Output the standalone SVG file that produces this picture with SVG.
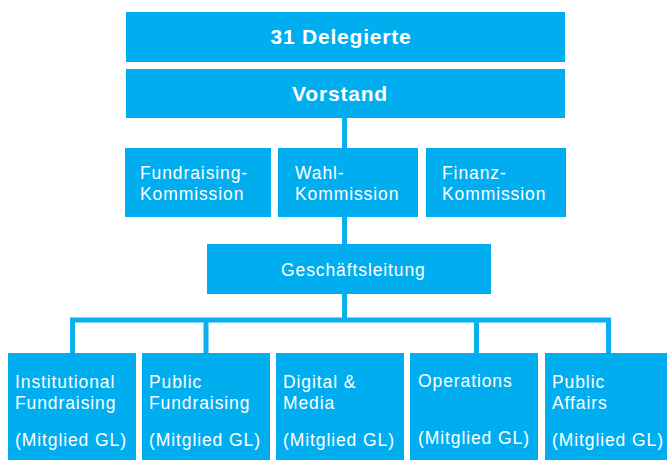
<svg xmlns="http://www.w3.org/2000/svg" width="667" height="460" viewBox="0 0 667 460">
<style>
.box{fill:#00AEEF}
.ln{stroke:#0AB0EE;stroke-width:5;fill:none}
.t{font-family:"Liberation Sans",Arial,sans-serif;fill:#FFFFFF;font-size:17.5px;letter-spacing:0.9px}
.b{font-family:"Liberation Sans",Arial,sans-serif;fill:#FFFFFF;font-size:21px;font-weight:bold;letter-spacing:0.8px;text-anchor:middle}
</style>
<rect width="667" height="460" fill="#FFFFFF"/>
<g id="connectors">
<path class="ln" d="M344.5 118 V320 M72.5 353 V320 H608.5 V353 M206 320 V353 M476.5 320 V353"/>
</g>
<g id="delegierte"><rect class="box" x="126" y="12" width="439" height="50"/><text class="b" x="341" y="44">31 Delegierte</text></g>
<g id="vorstand"><rect class="box" x="126" y="69" width="439" height="49"/><text class="b" x="340" y="101">Vorstand</text></g>
<g id="fundraising-kommission"><rect class="box" x="125" y="148" width="146" height="69"/><text class="t" x="140" y="179">Fundraising-</text><text class="t" x="140" y="200">Kommission</text></g>
<g id="wahl-kommission"><rect class="box" x="278" y="148" width="140" height="69"/><text class="t" x="295" y="179">Wahl-</text><text class="t" x="295" y="200">Kommission</text></g>
<g id="finanz-kommission"><rect class="box" x="426" y="148" width="140" height="69"/><text class="t" x="442" y="179">Finanz-</text><text class="t" x="442" y="200">Kommission</text></g>
<g id="geschaeftsleitung"><rect class="box" x="207" y="244" width="284" height="50"/><text class="t" x="281" y="276">Geschäftsleitung</text></g>
<g id="institutional-fundraising"><rect class="box" x="8" y="353" width="128" height="107"/><text class="t" x="15" y="388">Institutional</text><text class="t" x="15" y="409">Fundraising</text><text class="t" x="15" y="446">(Mitglied GL)</text></g>
<g id="public-fundraising"><rect class="box" x="142" y="353" width="128" height="107"/><text class="t" x="149" y="388">Public</text><text class="t" x="149" y="409">Fundraising</text><text class="t" x="149" y="446">(Mitglied GL)</text></g>
<g id="digital-media"><rect class="box" x="276" y="353" width="128" height="107"/><text class="t" x="283" y="388">Digital &amp;</text><text class="t" x="283" y="409">Media</text><text class="t" x="283" y="446">(Mitglied GL)</text></g>
<g id="operations"><rect class="box" x="410" y="353" width="128" height="107"/><text class="t" x="418" y="387">Operations</text><text class="t" x="418" y="444">(Mitglied GL)</text></g>
<g id="public-affairs"><rect class="box" x="545" y="353" width="122" height="107"/><text class="t" x="552" y="388">Public</text><text class="t" x="552" y="409">Affairs</text><text class="t" x="552" y="446">(Mitglied GL)</text></g>
</svg>
